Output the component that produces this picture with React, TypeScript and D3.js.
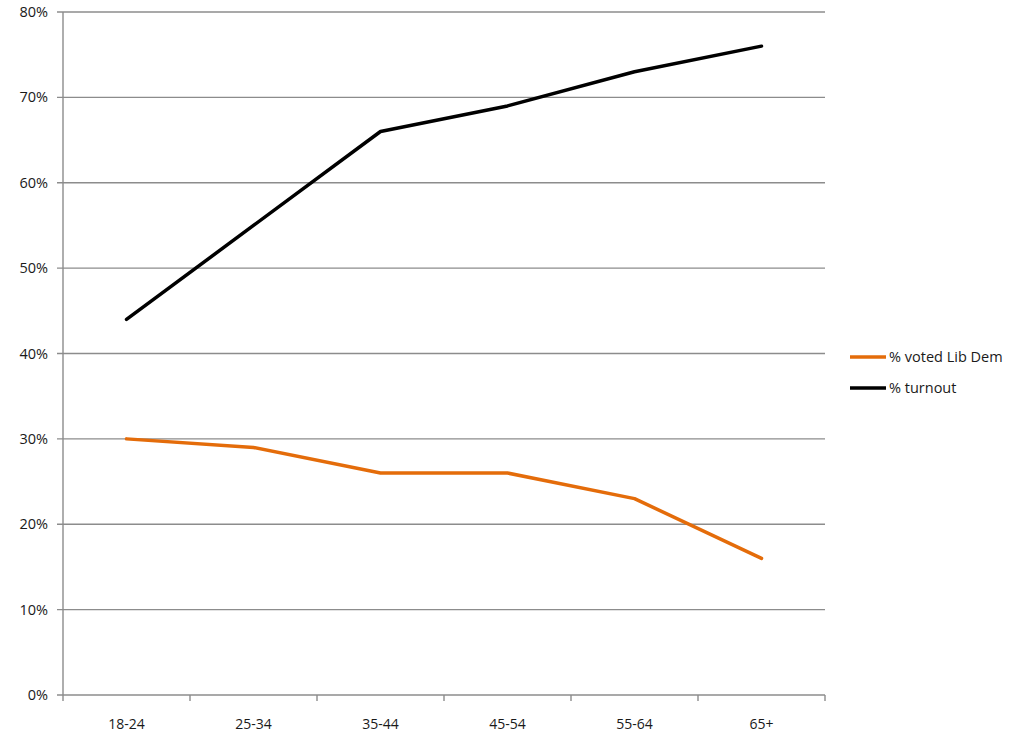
import React from "react";
import * as d3 from "d3";

const categories = ["18-24", "25-34", "35-44", "45-54", "55-64", "65+"];
const libDem = [30, 29, 26, 26, 23, 16];
const turnout = [44, 55, 66, 69, 73, 76];
const yTicks = [0, 10, 20, 30, 40, 50, 60, 70, 80];
const seriesNames = ["% voted Lib Dem", "% turnout"];

export default function App() {
  const W = 1024, H = 746;
  const left = 63, right = 825, top = 12, bottom = 695;
  const x = d3.scaleBand<string>().domain(categories).range([left, right]);
  const y = d3.scaleLinear().domain([0, 80]).range([bottom, top]);
  const line = d3
    .line<number>()
    .x((_, i) => (x(categories[i]) as number) + x.bandwidth() / 2)
    .y((v) => y(v));
  const gridColor = "#8c8c8c";
  const font = "Open Sans, Lato, sans-serif";
  const textColor = "#1a1a1a";
  const series = [
    { name: seriesNames[0], values: libDem, color: "#E46C0A" },
    { name: seriesNames[1], values: turnout, color: "#000000" },
  ];
  return (
    <svg width={W} height={H} style={{ position: "absolute", left: 0, top: 0, background: "#fff" }}>
      {yTicks.map((t) => (
        <g key={t}>
          <line x1={left - 6} x2={right} y1={y(t)} y2={y(t)} stroke={gridColor} strokeWidth={1.4} />
          <text x={48} y={y(t)} dy="0.35em" textAnchor="end" fontFamily={font} fontSize={14.5} fill={textColor}>
            {t}%
          </text>
        </g>
      ))}
      <line x1={left} x2={left} y1={top} y2={bottom} stroke={gridColor} strokeWidth={1.4} />
      {categories.map((c, i) => (
        <g key={c}>
          <line
            x1={(x(c) as number) + x.bandwidth()}
            x2={(x(c) as number) + x.bandwidth()}
            y1={bottom}
            y2={bottom + 6}
            stroke={gridColor}
            strokeWidth={1.4}
          />
          {i === 0 && (
            <line x1={left} x2={left} y1={bottom} y2={bottom + 6} stroke={gridColor} strokeWidth={1.4} />
          )}
          <text
            x={(x(c) as number) + x.bandwidth() / 2}
            y={bottom + 34}
            textAnchor="middle"
            fontFamily={font}
            fontSize={14}
            fill={textColor}
          >
            {c}
          </text>
        </g>
      ))}
      {series.map((s) => (
        <path
          key={s.name}
          d={line(s.values) as string}
          fill="none"
          stroke={s.color}
          strokeWidth={3.5}
          strokeLinejoin="round"
          strokeLinecap="round"
        />
      ))}
      {series.map((s, i) => (
        <g key={s.name} transform={`translate(850, ${357 + i * 31})`}>
          <line x1={0} x2={36} y1={0} y2={0} stroke={s.color} strokeWidth={3.5} />
          <text x={39} y={0} dy="0.35em" fontFamily={font} fontSize={14.5} fill={textColor}>
            {s.name}
          </text>
        </g>
      ))}
    </svg>
  );
}
